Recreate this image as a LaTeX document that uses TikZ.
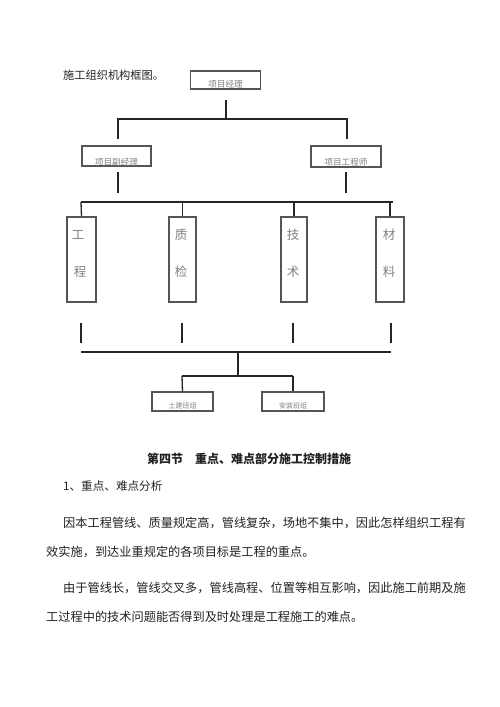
\documentclass[tikz,border=0pt]{standalone}
\usepackage{fontspec}
\newfontfamily\cjk{Noto Sans CJK SC}
\definecolor{boxline}{HTML}{555555}
\definecolor{boxtext}{HTML}{808080}
\definecolor{bodytext}{HTML}{222222}
\tikzset{
  orgbox/.style={draw=boxline, line width=1.1pt, fill=white, inner sep=0pt},
  tinytext/.style={font=\cjk\fontsize{8.6}{8.6}\selectfont, text=boxtext, inner sep=0pt},
  tallchar/.style={font=\cjk\fontsize{12.5}{12.5}\selectfont, text=boxtext, inner sep=0pt},
  conn/.style={draw=black!85, line width=1.3pt},
  bodyline/.style={font=\cjk\fontsize{12.2}{12.2}\selectfont, text=bodytext, anchor=west, inner sep=0pt}
}
\begin{document}
\begin{tikzpicture}[x=1pt,y=-1pt]
\useasboundingbox (0,0) rectangle (500,707);
\fill[white] (0,0) rectangle (500,707);

% title
\node[bodyline, font=\cjk\fontsize{11.2}{11.2}\selectfont] (title) at (63,75) {施工组织机构框图。};

% boxes
\node[orgbox, minimum width=70pt, minimum height=18pt] (pm) at (225.5,80) {};
\node[tinytext] (pmt) at (225.5,84) {项目经理};
\node[orgbox, minimum width=69pt, minimum height=20pt] (pvm) at (116.5,156) {};
\node[tinytext] (pvmt) at (116.5,162) {项目副经理};
\node[orgbox, minimum width=70pt, minimum height=21pt] (pe) at (346,156.5) {};
\node[tinytext] (pet) at (346,162) {项目工程师};

\node[orgbox, minimum width=29pt, minimum height=85pt] (b1) at (81.5,259.5) {};
\node[orgbox, minimum width=27pt, minimum height=85pt] (b2) at (182.5,259.5) {};
\node[orgbox, minimum width=26pt, minimum height=85pt] (b3) at (294,259.5) {};
\node[orgbox, minimum width=28pt, minimum height=85pt] (b4) at (390,259.5) {};
\node[tallchar] (b1a) at (78,235) {工};
\node[tallchar] (b1b) at (80,272) {程};
\node[tallchar] (b2a) at (181,235) {质};
\node[tallchar] (b2b) at (181,272) {检};
\node[tallchar] (b3a) at (293,235) {技};
\node[tallchar] (b3b) at (293,272) {术};
\node[tallchar] (b4a) at (389,235) {材};
\node[tallchar] (b4b) at (389,272) {料};

\node[orgbox, minimum width=61pt, minimum height=19pt] (g1) at (182.5,401.5) {};
\node[tinytext, font=\cjk\fontsize{7}{7}\selectfont] (g1t) at (182.5,406) {土建班组};
\node[orgbox, minimum width=62pt, minimum height=19pt] (g2) at (293,401.5) {};
\node[tinytext, font=\cjk\fontsize{7}{7}\selectfont] (g2t) at (293,406) {安装班组};

% junction coordinates
\coordinate (t0) at (226,100);
\coordinate (t1) at (226,119);
\coordinate (tl) at (118,119);
\coordinate (tr) at (347,119);
\coordinate (tld) at (118,139);
\coordinate (trd) at (347,139);
\coordinate (l0) at (118,172);
\coordinate (l1) at (118,193);
\coordinate (r0) at (346,172);
\coordinate (r1) at (346,193);
\coordinate (busl) at (81,202);
\coordinate (busr) at (393,202);

\coordinate (u1) at (81,323);  \coordinate (d1) at (81,343);
\coordinate (u2) at (182,323); \coordinate (d2) at (182,343);
\coordinate (u3) at (293,323); \coordinate (d3) at (293,343);
\coordinate (u4) at (391,323); \coordinate (d4) at (391,343);
\coordinate (bus2l) at (81,352);
\coordinate (bus2r) at (391,352);
\coordinate (m0) at (238,352);
\coordinate (m1) at (238,376);
\coordinate (gl) at (182,376);
\coordinate (gr) at (293,376);

% connectors upper
\draw[conn] (t0) -- (t1);
\draw[conn] (tld) -- (tl) -- (tr) -- (trd);
\draw[conn] (l0) -- (l1);
\draw[conn] (r0) -- (r1);
\draw[conn] (busl) -- (busr);
\draw[conn] (busl) -- (b1.north);
\draw[conn] (b2.north |- busl) -- (b2.north);
\draw[conn] (b3.north |- busl) -- (b3.north);
\draw[conn] (b4.north |- busr) -- (b4.north);

% connectors lower
\draw[conn] (u1) -- (d1);
\draw[conn] (u2) -- (d2);
\draw[conn] (u3) -- (d3);
\draw[conn] (u4) -- (d4);
\draw[conn] (bus2l) -- (bus2r);
\draw[conn] (m0) -- (m1);
\draw[conn] (gl) -- (gr);
\draw[conn] (gl) -- (g1.north);
\draw[conn] (gr) -- (g2.north);

% text below
\node[font=\cjk\bfseries\fontsize{12}{12}\selectfont, text=bodytext, inner sep=0pt] (head) at (249,459) {第四节\hspace{12pt}重点、难点部分施工控制措施};
\node[bodyline, font=\cjk\fontsize{11.6}{11.6}\selectfont] (sub) at (63,486) {1、重点、难点分析};
\node[bodyline] (p1) at (63,523) {因本工程管线、质量规定高，管线复杂，场地不集中，因此怎样组织工程有};
\node[bodyline] (p2) at (46,552) {效实施，到达业重规定的各项目标是工程的重点。};
\node[bodyline] (p3) at (63,588) {由于管线长，管线交叉多，管线高程、位置等相互影响，因此施工前期及施};
\node[bodyline] (p4) at (46,617) {工过程中的技术问题能否得到及时处理是工程施工的难点。};
\end{tikzpicture}
\end{document}
